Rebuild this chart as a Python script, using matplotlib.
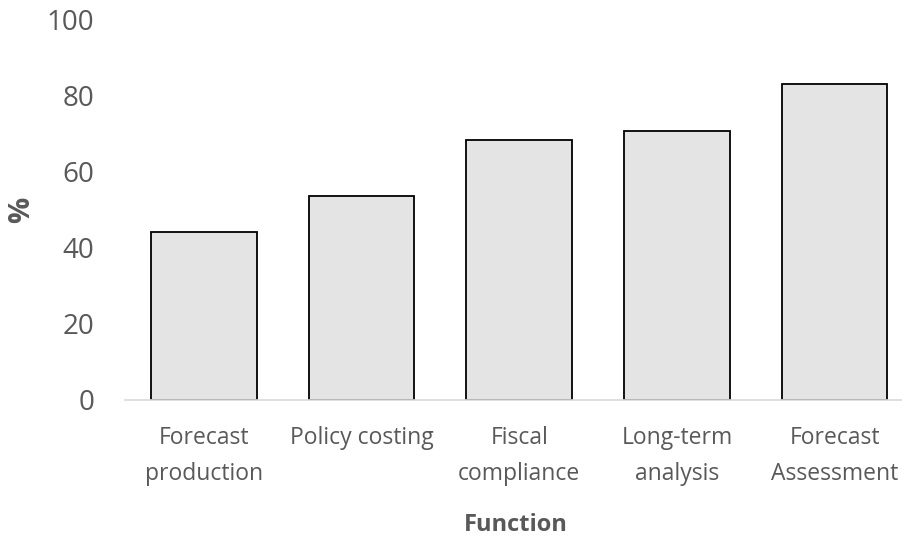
import matplotlib
matplotlib.use("Agg")
import matplotlib.pyplot as plt
import numpy as np

plt.rcParams['font.family'] = ['Open Sans', 'DejaVu Sans']

functions = ["Forecast\nproduction", "Policy costing", "Fiscal\ncompliance",
             "Long-term\nanalysis", "Forecast\nAssessment"]
shares = [44.1, 53.5, 68.3, 70.6, 82.9]
yticks = [0, 20, 40, 60, 80, 100]

TEXT = '#595959'

fig = plt.figure(figsize=(9.03, 5.39), dpi=100)
ax = fig.add_axes([125 / 903, 139 / 539, 788.5 / 903, 381 / 539])

x = np.arange(len(functions))
ax.bar(x, shares, width=0.67, color='#e4e4e4', edgecolor='black', linewidth=1.3)

ax.set_xlim(-0.5, len(functions) - 0.5)
ax.set_ylim(0, 100)
ax.set_yticks(yticks)
ax.set_xticks(x)
ax.set_xticklabels(functions, linespacing=1.65)

for side in ['top', 'right', 'left']:
    ax.spines[side].set_visible(False)
ax.spines['bottom'].set_color('#d9d9d9')
ax.spines['bottom'].set_linewidth(1.2)

ax.tick_params(axis='both', length=0, colors=TEXT)
ax.tick_params(axis='y', labelsize=20, pad=22)
ax.tick_params(axis='x', labelsize=16.5, pad=19)

# label anchors are given in axes fractions from pixel positions
ax.set_ylabel('%', fontsize=21, fontweight='bold', color=TEXT)
ax.yaxis.set_label_coords((36 - 125) / 788.5, 0.5)
ax.set_xlabel('Function', fontsize=17, fontweight='bold', color=TEXT)
ax.xaxis.set_label_coords((516 - 125) / 788.5, -(513 - 400) / 381)

fig.savefig('out.png', dpi=100)
